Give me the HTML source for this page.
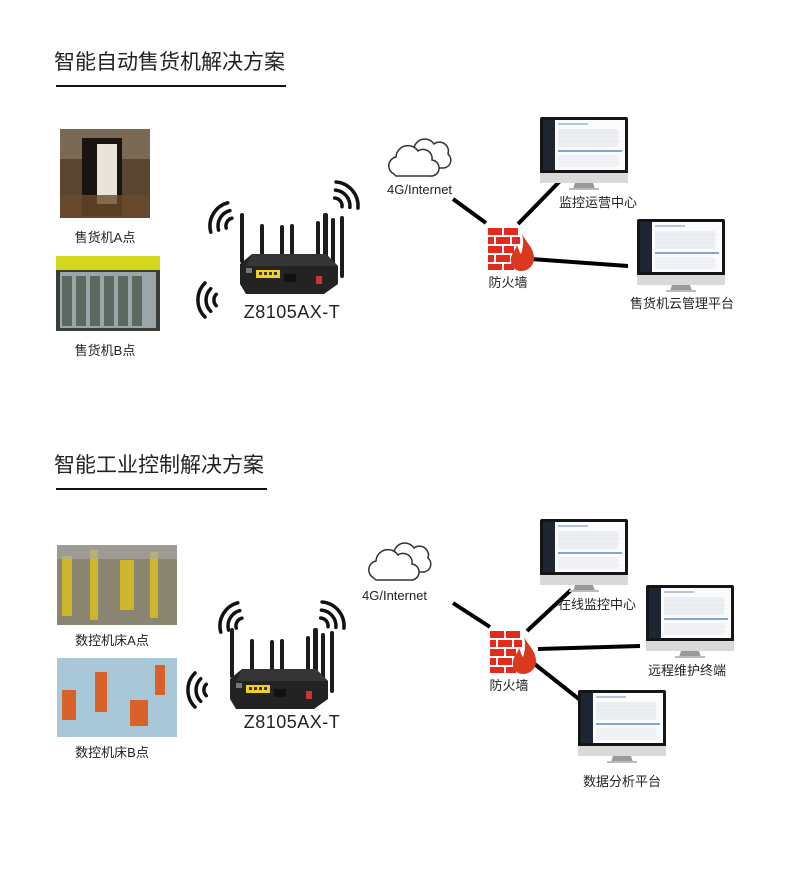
<!DOCTYPE html>
<html><head><meta charset="utf-8">
<style>
body{margin:0;background:#fff;}
#c{position:relative;width:790px;height:896px;overflow:hidden;background:#fff;font-family:"Liberation Sans","Noto Sans CJK SC",sans-serif;color:#222;}
.t{position:absolute;white-space:nowrap;font-size:13px;line-height:14px;}
.ct{transform:translateX(-50%);}
.h{position:absolute;font-size:21px;line-height:24px;color:#222;}
.u{position:absolute;height:2px;background:#111;}
.r{position:absolute;font-size:18px;line-height:20px;letter-spacing:0.5px;}
</style></head><body><div id="c">
<svg width="790" height="896" style="position:absolute;left:0;top:0">
<defs>
<g id="mon">
<rect x="0" y="0" width="88" height="57" rx="2" fill="#151515"/>
<rect x="3" y="3" width="12" height="50" fill="#1e2533"/>
<rect x="15" y="3" width="70" height="50" fill="#fafbfc"/>
<rect x="18" y="6" width="30" height="2" fill="#b9c3d6"/>
<rect x="18" y="12" width="60" height="18" fill="#eceef2"/>
<g stroke="#dfe2e8" stroke-width="0.6"><line x1="18" y1="16" x2="80" y2="16"/><line x1="18" y1="20" x2="80" y2="20"/><line x1="18" y1="24" x2="80" y2="24"/><line x1="18" y1="42" x2="80" y2="42"/><line x1="18" y1="46" x2="80" y2="46"/></g>
<rect x="18" y="33" width="64" height="2" fill="#86a3d6"/>
<rect x="18" y="38" width="60" height="12" fill="#eceef2" opacity="0.7"/>
<rect x="0" y="56" width="88" height="10" fill="#d9d9d9"/>
<polygon points="35,66 53,66 55,72 33,72" fill="#9a9a9a"/>
<rect x="29" y="71" width="30" height="2" fill="#bbb"/>
</g>
<g id="fw">
<g fill="#e42a1d">
<rect x="0" y="0" width="14" height="7"/><rect x="16" y="0" width="14" height="7"/>
<rect x="0" y="9" width="6" height="7"/><rect x="8" y="9" width="14" height="7"/><rect x="24" y="9" width="8" height="7"/>
<rect x="0" y="18" width="14" height="7"/><rect x="16" y="18" width="10" height="7"/>
<rect x="0" y="27" width="6" height="7"/><rect x="8" y="27" width="14" height="7"/>
<rect x="0" y="36" width="14" height="6"/><rect x="16" y="36" width="10" height="6"/>
</g>
<path d="M34,6 C38,14 46,20 46,30 C46,38 40,43 33,43 C26,43 22,37 23,30 C24,24 28,22 29,17 C31,21 31,24 33,26 C35,20 36,13 34,6Z" fill="#d93a1f"/>
</g>
<g id="cloud" fill="#fff" stroke="#333" stroke-width="1.5">
<path d="M26,14 a11,11 0 0 1 20,-4 a9,9 0 0 1 14,10 a8,8 0 0 1 -4,14 h-22"/>
<path d="M6,40 a9,9 0 0 1 2,-17 a12,12 0 0 1 22,-6 a9,9 0 0 1 14,9 a8,8 0 0 1 -2,16 h-34 a8,8 0 0 1 -2,-2z"/>
</g>
<g id="wave" fill="none" stroke="#111" stroke-width="3.5" stroke-linecap="round">
<path d="M-5.7,-5.7 A8,8 0 0 0 -5.7,5.7"/>
<path d="M-11.3,-11.3 A16,16 0 0 0 -11.3,11.3"/>
<path d="M-17,-17 A24,24 0 0 0 -17,17"/>
</g>
<g id="router">
<g fill="#1c1c1c">
<rect x="12" y="13" width="4" height="50" rx="2"/>
<rect x="32" y="24" width="4" height="40" rx="2"/>
<rect x="52" y="25" width="4" height="36" rx="2"/>
<rect x="62" y="24" width="4" height="36" rx="2"/>
<rect x="88" y="21" width="4" height="44" rx="2"/>
<rect x="95" y="13" width="5" height="76" rx="2"/>
<rect x="103" y="18" width="4" height="60" rx="2"/>
<rect x="112" y="16" width="4" height="62" rx="2"/>
</g>
<polygon points="12,64 24,54 98,54 110,66 110,84 96,94 18,94 12,84" fill="#232323"/>
<polygon points="24,54 98,54 110,66 18,66" fill="#353535"/>
<rect x="18" y="68" width="6" height="5" fill="#777"/>
<rect x="28" y="70" width="24" height="8" fill="#f2d021"/>
<g fill="#333"><rect x="31" y="72" width="3" height="3"/><rect x="36" y="72" width="3" height="3"/><rect x="41" y="72" width="3" height="3"/><rect x="46" y="72" width="3" height="3"/></g>
<rect x="56" y="74" width="12" height="8" fill="#111"/>
<rect x="88" y="76" width="6" height="8" fill="#c33"/>
</g>
</defs>

<rect x="60" y="129" width="90" height="89" fill="#5a4530"/>
<rect x="60" y="129" width="90" height="30" fill="#7a6a55"/>
<rect x="82" y="138" width="40" height="78" fill="#1a1410"/>
<rect x="97" y="144" width="20" height="60" fill="#e8e4d8"/>
<rect x="60" y="195" width="90" height="23" fill="#6b4a2a" opacity="0.8"/>
<rect x="56" y="256" width="104" height="75" fill="#3a3d38"/>
<rect x="56" y="256" width="104" height="14" fill="#d4d81c"/>
<rect x="60" y="272" width="96" height="56" fill="#9aa6a8"/>
<g fill="#5a6a60"><rect x="62" y="276" width="10" height="50"/><rect x="76" y="276" width="10" height="50"/><rect x="90" y="276" width="10" height="50"/><rect x="104" y="276" width="10" height="50"/><rect x="118" y="276" width="10" height="50"/><rect x="132" y="276" width="10" height="50"/></g>

<use href="#wave" transform="translate(234,226) rotate(30)"/>
<use href="#wave" transform="translate(334,206) rotate(-40) scale(-1,1)"/>
<use href="#wave" transform="translate(222,300)"/>
<use href="#router" transform="translate(228,200)"/>

<use href="#cloud" transform="translate(388,134)"/>
<g stroke="#000" stroke-width="4">
<line x1="453" y1="199" x2="486" y2="223"/>
<line x1="518" y1="224" x2="560" y2="181"/>
<line x1="531" y1="259" x2="628" y2="266"/>
</g>
<use href="#fw" transform="translate(488,228)"/>
<use href="#mon" transform="translate(540,117)"/>
<use href="#mon" transform="translate(637,219)"/>

<rect x="57" y="545" width="120" height="80" fill="#8a8570"/>
<g fill="#d8c020" opacity="0.85"><rect x="62" y="556" width="10" height="60"/><rect x="90" y="550" width="8" height="70"/><rect x="120" y="560" width="14" height="50"/><rect x="150" y="552" width="8" height="66"/></g>
<rect x="57" y="545" width="120" height="14" fill="#aaa" opacity="0.6"/>
<rect x="57" y="658" width="120" height="79" fill="#a8c8d8"/>
<g fill="#d8622a"><rect x="62" y="690" width="14" height="30"/><rect x="95" y="672" width="12" height="40"/><rect x="130" y="700" width="18" height="26"/><rect x="155" y="665" width="10" height="30"/></g>

<use href="#wave" transform="translate(244,626) rotate(30)"/>
<use href="#wave" transform="translate(320,626) rotate(-40) scale(-1,1)"/>
<use href="#wave" transform="translate(212,690)"/>
<use href="#router" transform="translate(218,615)"/>

<use href="#cloud" transform="translate(368,538)"/>
<g stroke="#000" stroke-width="4">
<line x1="453" y1="603" x2="490" y2="627"/>
<line x1="527" y1="631" x2="571" y2="590"/>
<line x1="538" y1="649" x2="640" y2="646"/>
<line x1="532" y1="662" x2="584" y2="703"/>
</g>
<use href="#fw" transform="translate(490,631)"/>
<use href="#mon" transform="translate(540,519)"/>
<use href="#mon" transform="translate(646,585)"/>
<use href="#mon" transform="translate(578,690)"/>
</svg>

<div class="h" style="left:54px;top:51px">智能自动售货机解决方案</div>
<div class="u" style="left:56px;top:85px;width:230px"></div>
<div class="t ct" style="left:105px;top:231px">售货机A点</div>
<div class="t ct" style="left:105px;top:344px">售货机B点</div>
<div class="r ct" style="left:292px;top:302px">Z8105AX-T</div>
<div class="t" style="left:387px;top:183px">4G/Internet</div>
<div class="t ct" style="left:508px;top:276px">防火墙</div>
<div class="t ct" style="left:598px;top:196px">监控运营中心</div>
<div class="t ct" style="left:682px;top:297px">售货机云管理平台</div>

<div class="h" style="left:54px;top:454px">智能工业控制解决方案</div>
<div class="u" style="left:56px;top:488px;width:211px"></div>
<div class="t ct" style="left:112px;top:634px">数控机床A点</div>
<div class="t ct" style="left:112px;top:746px">数控机床B点</div>
<div class="r ct" style="left:292px;top:712px">Z8105AX-T</div>
<div class="t" style="left:362px;top:589px">4G/Internet</div>
<div class="t ct" style="left:509px;top:679px">防火墙</div>
<div class="t ct" style="left:597px;top:598px">在线监控中心</div>
<div class="t ct" style="left:687px;top:664px">远程维护终端</div>
<div class="t ct" style="left:622px;top:775px">数据分析平台</div>
</div></body></html>
